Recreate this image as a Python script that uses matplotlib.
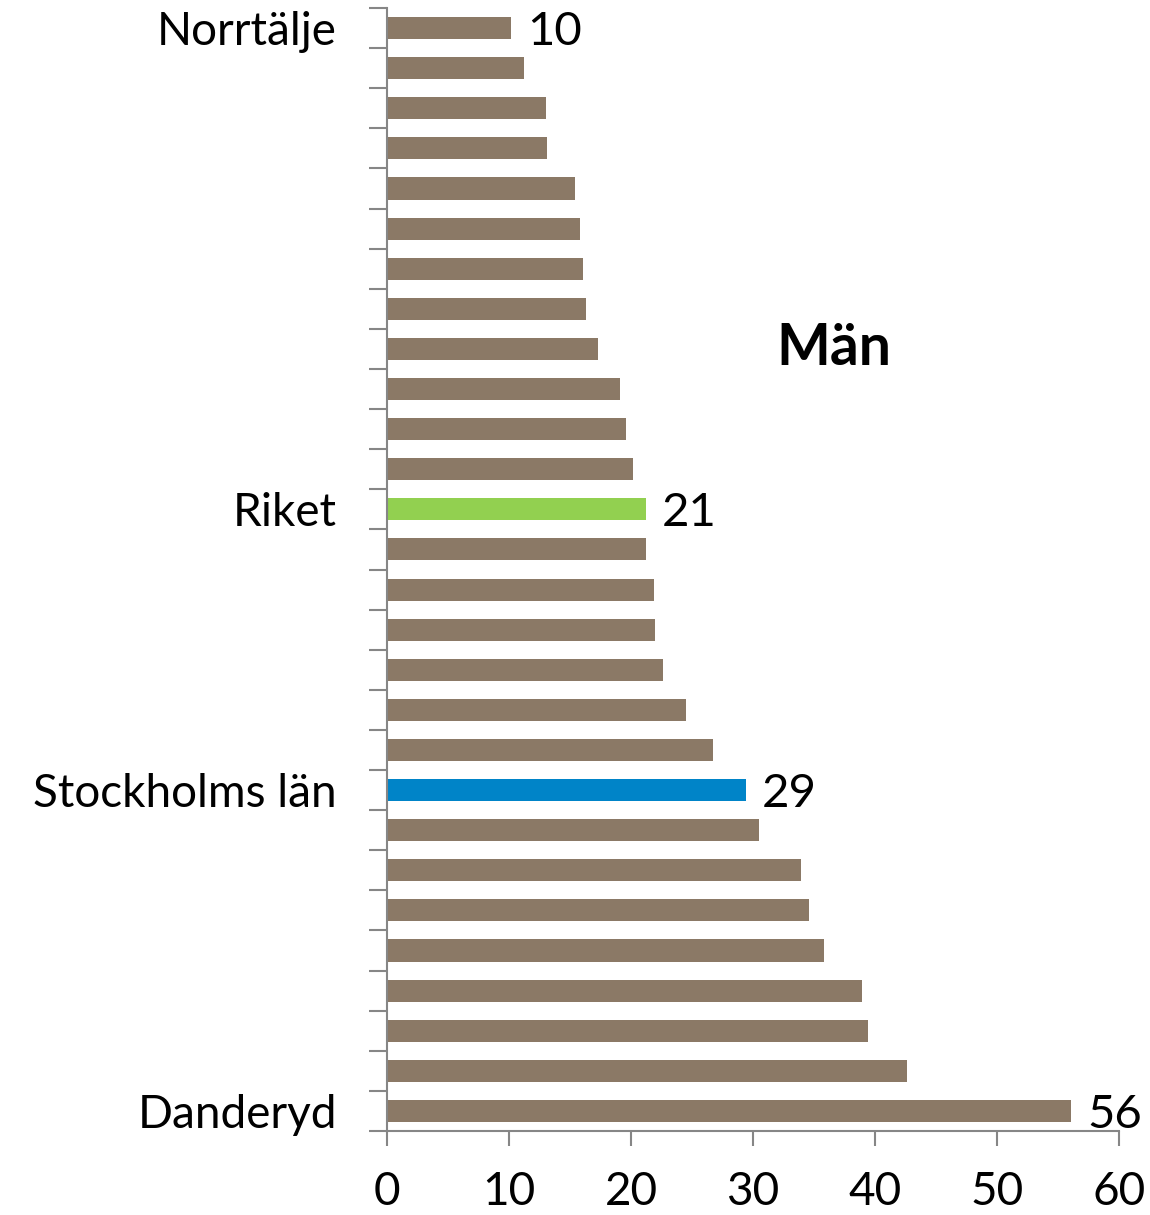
import numpy as np
import matplotlib.pyplot as plt

plt.rcParams['font.family'] = ['Lato', 'DejaVu Sans']

# values, top to bottom
values = [10.2, 11.2, 13.0, 13.1, 15.4, 15.8, 16.1, 16.3, 17.3, 19.1, 19.6, 20.2,
          21.2, 21.2, 21.9, 22.0, 22.6, 24.5, 26.7, 29.4, 30.5, 33.9, 34.6, 35.8,
          38.9, 39.4, 42.6, 56.1]
labels = {0: 'Norrtälje', 12: 'Riket', 19: 'Stockholms län', 27: 'Danderyd'}
shown = {0: '10', 12: '21', 19: '29', 27: '56'}
special = {12: '#92D050', 19: '#0084C8'}
title = 'Män'

brown = '#8B7966'
axcol = '#868686'

fig = plt.figure(figsize=(11.5, 12.15), dpi=100)
ax = fig.add_axes([387 / 1150, 1 - 1131 / 1215, (1119 - 387) / 1150, (1131 - 8) / 1215])

pos = np.arange(len(values))
colors = [special.get(i, brown) for i in pos]
ax.barh(pos, values, height=0.55, color=colors, zorder=2)

for i, txt in shown.items():
    ax.text(values[i] + 1.3, pos[i] + 0.1, txt, fontsize=34, va='center', ha='left')

ax.text(36.6, 8.0, title, fontsize=41, fontweight='bold', ha='center', va='center')

ax.set_xlim(0, 60)
ax.set_ylim(len(values) - 0.5, -0.5)
ax.set_xticks(np.arange(0, 61, 10))
ax.tick_params(axis='x', labelsize=33, length=11, width=1.5, color=axcol, pad=18, direction='out')

ax.set_yticks(list(labels.keys()))
ax.set_yticklabels(list(labels.values()))
ax.tick_params(axis='y', which='major', length=0, labelsize=33, pad=36)
ax.set_yticks(np.arange(-0.5, len(values), 1), minor=True)
ax.tick_params(axis='y', which='minor', length=13, width=1.5, color=axcol)

for s in ['top', 'right']:
    ax.spines[s].set_visible(False)
for s in ['left', 'bottom']:
    ax.spines[s].set_color(axcol)
    ax.spines[s].set_linewidth(1.5)

fig.savefig('out.png', dpi=100)
